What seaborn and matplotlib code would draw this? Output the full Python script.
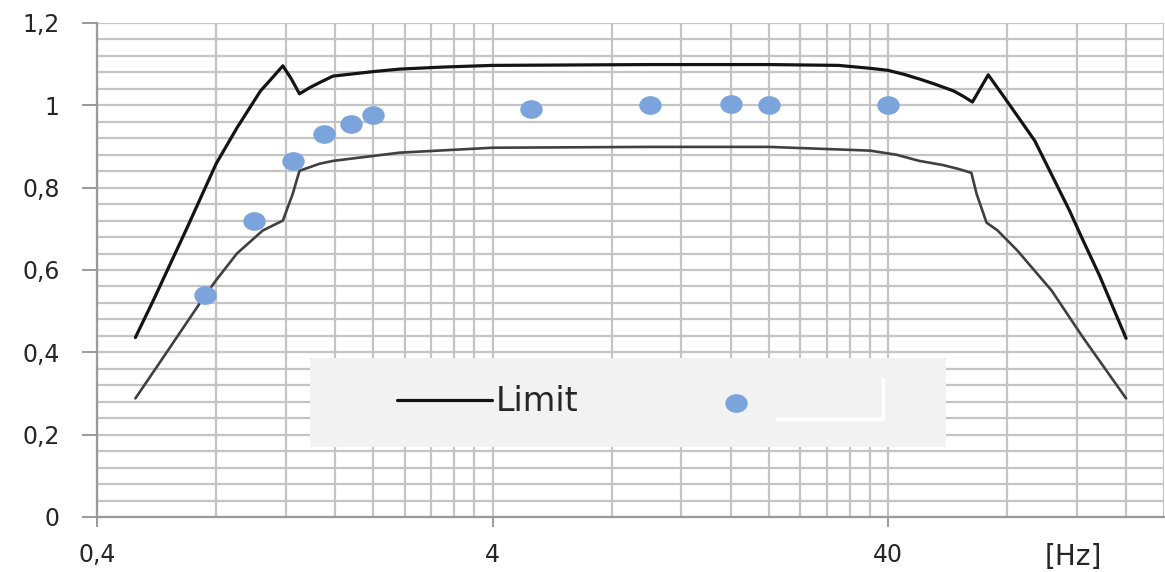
import matplotlib
matplotlib.use("Agg")
import matplotlib.pyplot as plt
import seaborn as sns
import numpy as np
import pandas as pd
from matplotlib.path import Path
from matplotlib.patches import Rectangle
from matplotlib.ticker import FixedLocator, MultipleLocator, FuncFormatter, NullFormatter

# ── data ─────────────────────────────────────────────────────
upper_hz  = [0.5, 0.555, 0.676, 0.8, 0.903, 1.036, 1.11, 1.18, 1.24, 1.30, 1.38, 1.46, 1.58, 2.0,
             2.33, 3.0, 4.0, 10, 20, 30, 36, 40, 44, 48, 52, 58.6, 62, 65.4, 71.7, 77.6, 86, 94,
             115, 124.5, 137, 160]
upper_val = [0.436, 0.526, 0.703, 0.858, 0.945, 1.035, 1.067, 1.096, 1.064, 1.028, 1.043, 1.055, 1.071, 1.082,
             1.088, 1.093, 1.097, 1.099, 1.099, 1.097, 1.090, 1.085, 1.075, 1.064, 1.053, 1.035, 1.022, 1.008,
             1.074, 1.028, 0.967, 0.914, 0.745, 0.672, 0.587, 0.434]

lower_hz  = [0.5, 0.6, 0.75, 0.8, 0.903, 1.05, 1.18, 1.25, 1.30, 1.46, 1.58, 2.33, 4.0, 10, 20, 36,
             42, 48, 55, 60, 65, 67, 71, 75.7, 85, 103.7, 124.5, 160]
lower_val = [0.288, 0.40, 0.538, 0.575, 0.64, 0.696, 0.72, 0.785, 0.841, 0.858, 0.865, 0.885, 0.897, 0.899,
             0.899, 0.890, 0.880, 0.865, 0.855, 0.846, 0.836, 0.785, 0.715, 0.696, 0.647, 0.55, 0.436, 0.288]

pts_hz  = [0.75, 1.0, 1.25, 1.5, 1.75, 2.0, 5.0, 10, 16, 20, 40]
pts_val = [0.54, 0.72, 0.865, 0.93, 0.955, 0.977, 0.992, 1.0, 1.004, 1.0, 1.0]

xtick_vals   = [0.4, 4, 40]
xtick_labels = ["0,4", "4", "40"]

sns.set_theme(style="white")
plt.rcParams["font.family"] = ["DejaVu Sans"]

GRID = "#c4c4c4"
TXT = "#262626"
fig = plt.figure(figsize=(11.65, 5.72), dpi=100)
ax = fig.add_axes([0.0833, 0.0962, 0.9162, 0.8636])

up = pd.DataFrame({"hz": upper_hz, "v": upper_val})
lo = pd.DataFrame({"hz": lower_hz, "v": lower_val})
pt = pd.DataFrame({"hz": pts_hz, "v": pts_val})

sns.lineplot(data=up, x="hz", y="v", color="#141414", linewidth=2.3, sort=False,
             ax=ax, zorder=3, label="Limit")
sns.lineplot(data=lo, x="hz", y="v", color="#404040", linewidth=1.9, sort=False,
             ax=ax, zorder=3)

# Excel-style slightly wide round markers
ell = Path.unit_circle()
ell = Path(ell.vertices * np.array([1.2, 1.0]), ell.codes)
sns.scatterplot(data=pt, x="hz", y="v", color="#7ba4dc", marker=ell, s=260,
                linewidth=0, ax=ax, zorder=4)

ax.set_xscale("log")
ax.set_xlim(0.4, 200)
ax.set_ylim(0, 1.2)

minor = [k * b for b in [0.4, 4, 40] for k in range(2, 10)]
ax.set_xticks(xtick_vals)
ax.set_xticklabels(xtick_labels)
ax.xaxis.set_minor_locator(FixedLocator(minor))
ax.xaxis.set_minor_formatter(NullFormatter())
ax.yaxis.set_major_locator(MultipleLocator(0.2))
ax.yaxis.set_minor_locator(MultipleLocator(0.04))
ax.yaxis.set_major_formatter(FuncFormatter(lambda v, p: f"{round(v, 2):g}".replace(".", ",")))

ax.grid(True, which="both", color=GRID, linewidth=1.6)
ax.set_axisbelow(True)

for s in ["top", "right"]:
    ax.spines[s].set_visible(False)
for s in ["left", "bottom"]:
    ax.spines[s].set_color("#9a9a9a")
    ax.spines[s].set_linewidth(1.6)

ax.tick_params(axis="y", which="major", direction="out", length=11, width=1.4,
               color="#9a9a9a", pad=16, labelsize=17, labelcolor=TXT, left=True)
ax.tick_params(axis="x", which="major", direction="out", length=7, width=1.4,
               color="#9a9a9a", pad=12, labelsize=17, labelcolor=TXT, bottom=True)
ax.tick_params(which="minor", length=0)
ax.set_xlabel(""); ax.set_ylabel("")

ax.text(0.915, -0.082, "[Hz]", transform=ax.transAxes, ha="center", va="center",
        fontsize=20, color=TXT)

# legend area
ax.add_patch(Rectangle((0.1996, 0.1417), 0.5961, 0.1802, transform=ax.transAxes,
                       facecolor="#f2f2f2", edgecolor="none", zorder=1.5))
ax.plot([0.6354, 0.7366, 0.7366], [0.1984, 0.1984, 0.2814], transform=ax.transAxes,
        color="white", linewidth=2.5, zorder=2, solid_capstyle="butt")
ax.legend(handles=[ax.lines[0], ax.collections[-1]], labels=["Limit", ""],
          loc="center left", bbox_to_anchor=(0.2812, 0.2328), ncol=2, frameon=False,
          borderpad=0, borderaxespad=0, fontsize=24, handlelength=2.85,
          handletextpad=0.1, columnspacing=3.3, labelcolor=TXT)

plt.savefig("out.png", dpi=100)
plt.close()
